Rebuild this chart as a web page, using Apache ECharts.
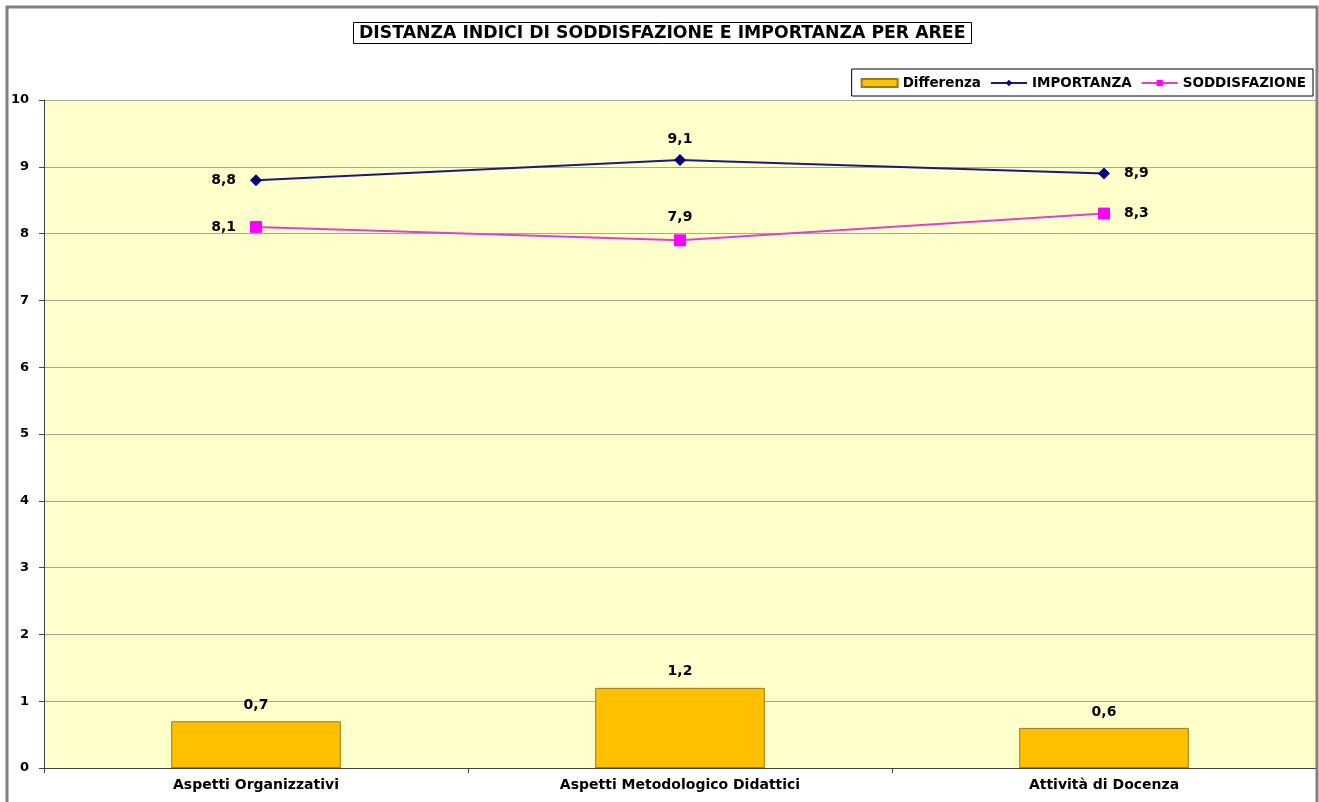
<!DOCTYPE html>
<html>
<head>
<meta charset="utf-8">
<script src="https://cdn.jsdelivr.net/npm/echarts@6/dist/echarts.min.js"></script>
<style>
html,body{margin:0;padding:0;background:#fff;}
#c{width:1319px;height:802px;}
</style>
</head>
<body>
<div id="c"></div>
<script>
var categories = ['Aspetti Organizzativi', 'Aspetti Metodologico Didattici', 'Attività di Docenza'];
var differenza = [0.7, 1.2, 0.6];
var importanza = [8.8, 9.1, 8.9];
var soddisfazione = [8.1, 7.9, 8.3];
var yTicks = [0, 1, 2, 3, 4, 5, 6, 7, 8, 9, 10];

var impLabelPos = ['left', 'top', 'right'];
var sodLabelPos = ['left', 'top', 'right'];

function fmt(p) { return String(p.value).replace('.', ','); }
var font = 'DejaVu Sans, Liberation Sans, Arial, sans-serif';

var chart = echarts.init(document.getElementById('c'), null, {renderer: 'canvas'});
chart.setOption({
  animation: false,
  backgroundColor: '#ffffff',
  textStyle: {fontFamily: font},
  graphic: [{
    type: 'rect', shape: {x: 7, y: 7, width: 1310, height: 800},
    style: {fill: 'none', stroke: '#808080', lineWidth: 3}, z: 100
  }],
  title: {
    text: 'DISTANZA INDICI DI SODDISFAZIONE E IMPORTANZA PER AREE',
    left: 353, top: 22,
    padding: [3, 6, 2, 6],
    borderColor: '#000', borderWidth: 1,
    textStyle: {fontFamily: font, fontSize: 17.3, fontWeight: 'bold', color: '#000'}
  },
  legend: {
    right: 6, top: 69,
    padding: [7, 7, 6, 9],
    borderColor: '#000', borderWidth: 1,
    backgroundColor: '#fff',
    itemWidth: 36, itemHeight: 8, itemGap: 9,
    textStyle: {fontFamily: font, fontSize: 13.5, fontWeight: 'bold', color: '#000'},
    data: [{name: 'Differenza', icon: 'rect'}, 'IMPORTANZA', 'SODDISFAZIONE']
  },
  grid: {left: 44, right: 3, top: 100, bottom: 34, show: true, backgroundColor: '#FFFFCC', borderWidth: 0},
  xAxis: {
    type: 'category',
    data: categories,
    axisLine: {lineStyle: {color: '#404040', width: 1}},
    axisTick: {show: true, alignWithLabel: false, lineStyle: {color: '#404040'}},
    axisLabel: {fontFamily: font, fontSize: 14, fontWeight: 'bold', color: '#000', margin: 10},
    splitLine: {show: false}
  },
  yAxis: {
    type: 'value', min: 0, max: 10, interval: 1,
    axisLine: {show: true, lineStyle: {color: '#404040'}},
    axisTick: {show: true, inside: false, length: 5, lineStyle: {color: '#404040'}},
    axisLabel: {fontFamily: font, fontSize: 13, fontWeight: 'bold', color: '#000', margin: 15,
      formatter: function (v) { return yTicks.indexOf(v) >= 0 ? String(v) : ''; }},
    splitLine: {show: true, lineStyle: {color: '#a8a890', width: 1}}
  },
  series: [
    {
      name: 'Differenza', type: 'bar', barWidth: '40%',
      data: differenza,
      itemStyle: {color: '#FFC000', borderColor: '#9a7a20', borderWidth: 1},
      label: {show: true, position: 'top', distance: 9, formatter: fmt,
        fontFamily: font, fontSize: 14, fontWeight: 'bold', color: '#000'}
    },
    {
      name: 'IMPORTANZA', type: 'line',
      data: importanza.map(function (v, i) {
        return {value: v, label: {position: impLabelPos[i], distance: impLabelPos[i] === 'top' ? 8 : 14}};
      }),
      symbol: 'diamond', symbolSize: 12,
      lineStyle: {color: '#1a1a7a', width: 2},
      itemStyle: {color: '#000080'},
      label: {show: true, formatter: fmt,
        fontFamily: font, fontSize: 14, fontWeight: 'bold', color: '#000'}
    },
    {
      name: 'SODDISFAZIONE', type: 'line',
      data: soddisfazione.map(function (v, i) {
        return {value: v, label: {position: sodLabelPos[i], distance: sodLabelPos[i] === 'top' ? 10 : 14}};
      }),
      symbol: 'rect', symbolSize: 12,
      lineStyle: {color: '#E040D0', width: 2},
      itemStyle: {color: '#FF00FF'},
      label: {show: true, formatter: fmt,
        fontFamily: font, fontSize: 14, fontWeight: 'bold', color: '#000'}
    }
  ]
});
</script>
</body>
</html>
